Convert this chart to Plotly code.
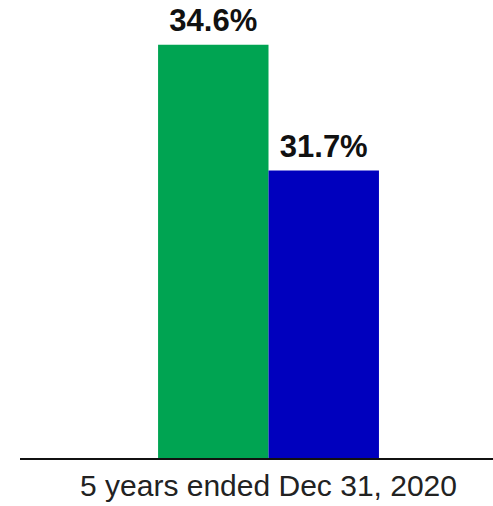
import plotly.graph_objects as go

categories = ["5 years ended Dec 31, 2020"]
series_a = [34.6]
series_b = [31.7]
colors = ["#00A452", "#0000BE"]
groups = ["a", "b"]

fig = go.Figure()
for vals, col, g in zip([series_a, series_b], colors, groups):
    fig.add_trace(go.Bar(
        x=categories, y=vals, marker=dict(color=col, line=dict(width=0)),
        offsetgroup=g, hoverinfo="skip",
    ))
for vals, g in zip([series_a, series_b], groups):
    fig.add_trace(go.Scatter(
        x=categories, y=vals, mode="markers+text", offsetgroup=g,
        marker=dict(size=8, color="rgba(0,0,0,0)"),
        texttemplate="%{y:.1f}%", textposition="top center", cliponaxis=False,
        textfont=dict(family="Liberation Sans, Arial", size=31, color="#111111", weight="bold"),
    ))

fig.update_layout(
    width=493, height=506,
    margin=dict(l=20, r=0, t=0, b=48),
    barmode="group", bargap=0.533, bargroupgap=0,
    scattermode="group", scattergap=0.533,
    showlegend=False,
    plot_bgcolor="white", paper_bgcolor="white",
    xaxis=dict(range=[-0.5254, 0.4746], showline=True, linecolor="#111111", linewidth=2,
               ticks="", tickfont=dict(family="Liberation Sans, Arial", size=30, color="#222222"),
               showgrid=False, zeroline=False),
    yaxis=dict(range=[25.08, 35.63], visible=False, showgrid=False, zeroline=False),
)
fig.write_html("out.html")
